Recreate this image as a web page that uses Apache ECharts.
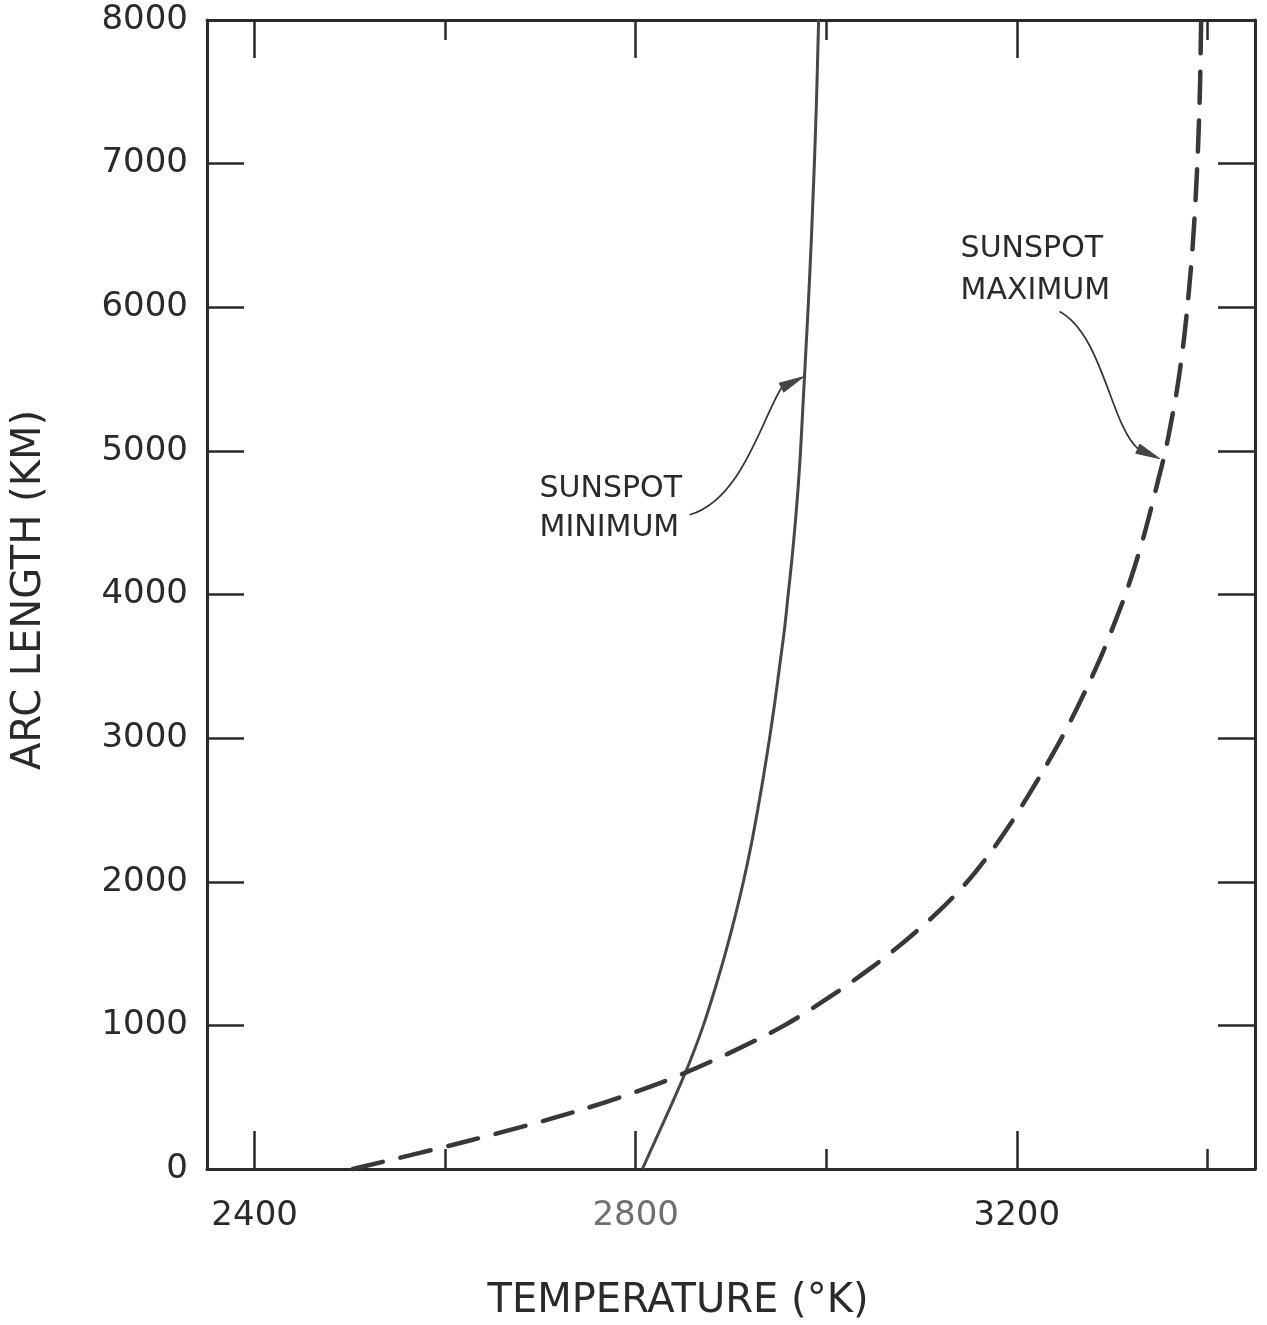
<!DOCTYPE html>
<html><head><meta charset="utf-8">
<script src="https://cdn.jsdelivr.net/npm/echarts@6/dist/echarts.min.js"></script>
<style>html,body{margin:0;padding:0;background:#ffffff}#c{width:1267px;height:1325px}</style>
</head><body><div id="c"></div>
<script>
// ---- data ----
// Sunspot maximum (dashed): temperature read at each arc length
const maximumH = [0, 200, 400, 600, 800, 1000, 1200, 1400, 1600, 1800, 2000, 2200, 2400, 2600, 2800, 3000, 3200, 3400, 3600, 3800, 4000, 4200, 4400, 4600, 4800, 5000, 5200, 5400, 5600, 5800, 6000, 6200, 6400, 6600, 6800, 7000, 7200, 7400, 7600, 7800, 8000];
const maximumT = [2503, 2627, 2737, 2826, 2896, 2956, 3004, 3047, 3085, 3119, 3148, 3172, 3193, 3212, 3230, 3247, 3262.5, 3277, 3290.5, 3302.5, 3314, 3324, 3333, 3341, 3348.5, 3356, 3362, 3367.5, 3372, 3375.8, 3379, 3381.8, 3384.3, 3386.3, 3388, 3389.5, 3390.7, 3391.7, 3392.5, 3393, 3393.5];
// Sunspot minimum (solid)
const minimumH = [0, 250, 500, 750, 1000, 1250, 1500, 1750, 2000, 2250, 2500, 2750, 3000, 3250, 3500, 3750, 4000, 4250, 4500, 4750, 5000, 5250, 5500, 5750, 6000, 6250, 6500, 6750, 7000, 7250, 7500, 7750, 8000];
const minimumT = [2807, 2824, 2841, 2857, 2871, 2883, 2894, 2904, 2913, 2921, 2928, 2934.5, 2940.5, 2946, 2951, 2956, 2960, 2964, 2967.5, 2970.5, 2973, 2975, 2977, 2979, 2981, 2982.8, 2984.5, 2986, 2987.5, 2988.8, 2990, 2991, 2992];
const xMajorTicks = [2400, 2800, 3200];
const xMinorTicks = [2600, 3000, 3400];
const yTicks = [0, 1000, 2000, 3000, 4000, 5000, 6000, 7000, 8000];
const xAxisTitle = 'TEMPERATURE (°K)';
const yAxisTitle = 'ARC LENGTH (KM)';
const minimumLabel = ['SUNSPOT', 'MINIMUM'];
const maximumLabel = ['SUNSPOT', 'MAXIMUM'];
// annotation anchors in data units [T, H]
const minimumLabelAt = [[2699, 4730], [2699, 4465]];
const maximumLabelAt = [[3141, 6402], [3141, 6109]];
// leader: start, control 1, control 2, end of curve, arrow tip
const minimumLeader = [[2856.6, 4555], [2911, 4660], [2932, 5217], [2953, 5440], [2976.5, 5517]];
const maximumLeader = [[3244.8, 5970], [3290, 5809], [3298.5, 5183], [3327, 5015], [3350, 4946]];

const INK = '#2a2a2a';
const FONT = '"DejaVu Sans", sans-serif';
const zip = (a, b) => a.map((v, i) => [v, b[i]]);
const plain = (v) => String(v);

const chart = echarts.init(document.getElementById('c'), null, {renderer: 'canvas'});

const xBase = {type: 'value', min: 2350, max: 3450, splitLine: {show: false}};
const tickStyle = {color: INK, width: 2.5};
chart.setOption({
  backgroundColor: '#ffffff',
  animation: false,
  grid: {left: 207, right: 12, top: 20, bottom: 156, containLabel: false},
  xAxis: [
    Object.assign({}, xBase, {position: 'bottom',
      axisLine: {show: true, lineStyle: {color: INK, width: 3}},
      axisTick: {show: true, inside: true, length: 38, customValues: xMajorTicks, lineStyle: tickStyle},
      axisLabel: {show: true, customValues: xMajorTicks, margin: 30, fontSize: 34, fontFamily: FONT,
        formatter: plain, color: (v) => (Number(v) === 2800 ? '#6f6f6f' : INK)}}),
    Object.assign({}, xBase, {position: 'bottom',
      axisLine: {show: false},
      axisTick: {show: true, inside: true, length: 20, customValues: xMinorTicks, lineStyle: tickStyle},
      axisLabel: {show: false}}),
    Object.assign({}, xBase, {position: 'top',
      axisLine: {show: true, lineStyle: {color: INK, width: 3}},
      axisTick: {show: true, inside: true, length: 38, customValues: xMajorTicks, lineStyle: tickStyle},
      axisLabel: {show: false}}),
    Object.assign({}, xBase, {position: 'top',
      axisLine: {show: false},
      axisTick: {show: true, inside: true, length: 20, customValues: xMinorTicks, lineStyle: tickStyle},
      axisLabel: {show: false}})
  ],
  yAxis: [
    {type: 'value', min: 0, max: 8000, interval: 1000, position: 'left', splitLine: {show: false},
      axisLine: {show: true, lineStyle: {color: INK, width: 3}},
      axisTick: {show: true, inside: true, length: 37, lineStyle: tickStyle},
      axisLabel: {show: true, margin: 19, fontSize: 34, fontFamily: FONT, color: INK,
        customValues: yTicks, formatter: plain}},
    {type: 'value', min: 0, max: 8000, interval: 1000, position: 'right', splitLine: {show: false},
      axisLine: {show: true, lineStyle: {color: INK, width: 3}},
      axisTick: {show: true, inside: true, length: 37, lineStyle: tickStyle},
      axisLabel: {show: false}}
  ],
  series: [
    {name: 'Sunspot minimum', type: 'line', xAxisIndex: 0, yAxisIndex: 0,
      data: zip(minimumT, minimumH), showSymbol: false, smooth: 0.3, clip: false,
      lineStyle: {color: '#474747', width: 3}},
    {name: 'Sunspot maximum', type: 'line', xAxisIndex: 0, yAxisIndex: 0,
      data: zip(maximumT, maximumH), showSymbol: false, smooth: 0.3, clip: false,
      lineStyle: {color: '#383838', width: 4.5, type: [31, 18], cap: 'round'}}
  ]
});

function px(p) { return chart.convertToPixel({xAxisIndex: 0, yAxisIndex: 0}, p); }

function leader(ctrl) {
  const p = ctrl.map(px);
  const end = p[3], tip = p[4];
  const dx = tip[0] - end[0], dy = tip[1] - end[1];
  const L = Math.hypot(dx, dy) || 1;
  const ux = dx / L, uy = dy / L;
  const headW = 5;
  return [
    {type: 'bezierCurve', shape: {x1: p[0][0], y1: p[0][1], cpx1: p[1][0], cpy1: p[1][1],
      cpx2: p[2][0], cpy2: p[2][1], x2: end[0], y2: end[1]},
      style: {stroke: '#333', lineWidth: 1.7, fill: null}, z: 10},
    {type: 'polygon', shape: {points: [tip, [end[0] - uy * headW, end[1] + ux * headW], [end[0] + uy * headW, end[1] - ux * headW]]},
      style: {fill: '#444', stroke: '#444', lineWidth: 1}, z: 10}
  ];
}

function labelLines(lines, anchors) {
  return lines.map((s, i) => {
    const p = px(anchors[i]);
    return {type: 'text', x: p[0], y: p[1], z: 10,
      style: {text: s, font: '30px ' + FONT, fill: INK, align: 'left', verticalAlign: 'middle'}};
  });
}

const graphics = []
  .concat(leader(minimumLeader))
  .concat(leader(maximumLeader))
  .concat(labelLines(minimumLabel, minimumLabelAt))
  .concat(labelLines(maximumLabel, maximumLabelAt))
  .concat([
    {type: 'text', x: 678, y: 1302, z: 10,
      style: {text: xAxisTitle, font: '40px ' + FONT, fill: INK, align: 'center', verticalAlign: 'middle'}},
    {type: 'text', x: 30, y: 590, rotation: Math.PI / 2, z: 10,
      style: {text: yAxisTitle, font: '40px ' + FONT, fill: INK, align: 'center', verticalAlign: 'middle'}}
  ]);
chart.setOption({graphic: graphics});
</script>
</body></html>
